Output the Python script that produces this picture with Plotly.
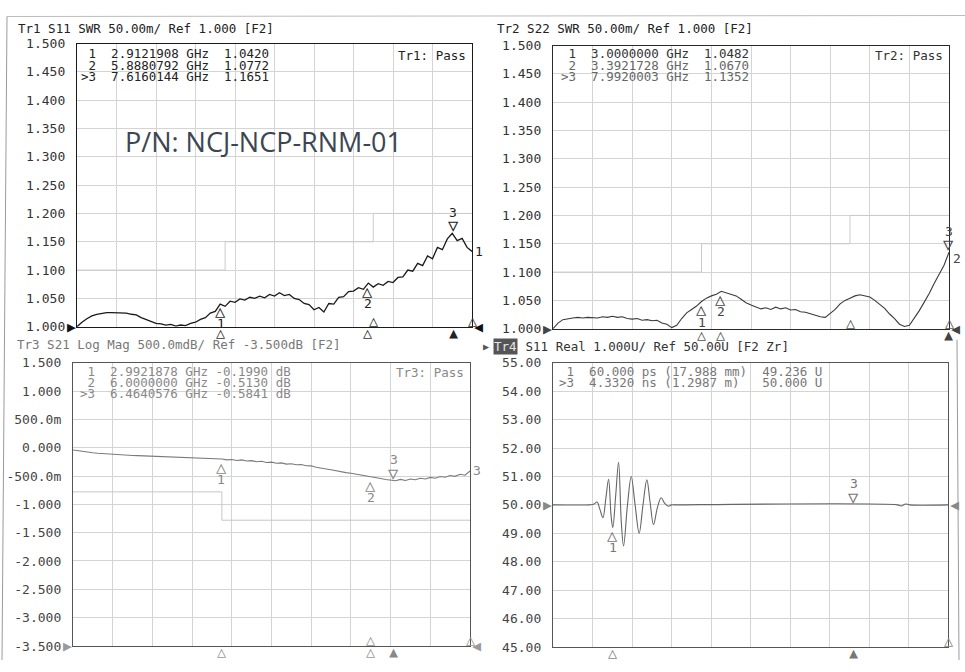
import plotly.graph_objects as go

W, H = 965, 672

# ---------------- data ----------------
freq_ghz = [round(i * 0.1, 1) for i in range(81)]  # sweep grid 0..8 GHz

s11_swr = [1.000, 1.008, 1.014, 1.019, 1.022, 1.024, 1.025, 1.025, 1.025, 1.025,
           1.024, 1.022, 1.021, 1.016, 1.013, 1.009, 1.006, 1.005, 1.003, 1.004,
           1.001, 1.003, 1.002, 1.006, 1.008, 1.013, 1.016, 1.024, 1.027, 1.040,
           1.036, 1.045, 1.043, 1.049, 1.047, 1.052, 1.050, 1.054, 1.051, 1.057,
           1.054, 1.060, 1.055, 1.057, 1.050, 1.048, 1.041, 1.039, 1.030, 1.034,
           1.026, 1.041, 1.040, 1.052, 1.053, 1.062, 1.063, 1.069, 1.066, 1.077,
           1.070, 1.076, 1.073, 1.080, 1.078, 1.087, 1.088, 1.100, 1.098, 1.112,
           1.108, 1.125, 1.120, 1.140, 1.136, 1.155, 1.165, 1.152, 1.156, 1.140,
           1.133]

s22_swr = [1.000, 1.010, 1.016, 1.018, 1.019, 1.020, 1.019, 1.020, 1.020, 1.019,
           1.021, 1.020, 1.022, 1.020, 1.021, 1.018, 1.017, 1.018, 1.015, 1.016,
           1.014, 1.015, 1.010, 1.008, 1.002, 1.006, 1.018, 1.028, 1.034, 1.040,
           1.048, 1.054, 1.058, 1.061, 1.066, 1.063, 1.061, 1.058, 1.052, 1.046,
           1.042, 1.038, 1.035, 1.037, 1.034, 1.038, 1.035, 1.037, 1.033, 1.034,
           1.030, 1.029, 1.026, 1.024, 1.021, 1.020, 1.027, 1.034, 1.044, 1.050,
           1.054, 1.058, 1.060, 1.058, 1.056, 1.050, 1.043, 1.036, 1.026, 1.018,
           1.008, 1.004, 1.006, 1.018, 1.032, 1.047, 1.062, 1.080, 1.097, 1.112,
           1.135]

s21_db = [-0.040, -0.055, -0.068, -0.080, -0.090, -0.098, -0.105, -0.112, -0.118, -0.124,
          -0.128, -0.133, -0.137, -0.140, -0.144, -0.148, -0.151, -0.155, -0.158, -0.162,
          -0.166, -0.170, -0.175, -0.180, -0.176, -0.188, -0.180, -0.195, -0.188, -0.203,
          -0.199, -0.215, -0.208, -0.225, -0.215, -0.235, -0.228, -0.248, -0.240, -0.262,
          -0.255, -0.275, -0.268, -0.290, -0.283, -0.302, -0.298, -0.318, -0.320, -0.345,
          -0.355, -0.375, -0.390, -0.410, -0.425, -0.440, -0.450, -0.468, -0.480, -0.500,
          -0.513, -0.530, -0.545, -0.560, -0.575, -0.584, -0.560, -0.578, -0.552, -0.565,
          -0.540, -0.552, -0.525, -0.538, -0.508, -0.522, -0.490, -0.505, -0.470, -0.485,
          -0.410]

tdr_time_ns = [-1.0, -0.35, -0.28, -0.22, -0.17, -0.115, -0.065, -0.015, 0.03, 0.06,
               0.11, 0.162, 0.21, 0.25, 0.32, 0.386, 0.455, 0.527, 0.595, 0.663,
               0.72, 0.781, 0.85, 0.917, 0.98, 1.046, 1.10, 1.15, 5.10, 5.17,
               5.25, 5.32, 6.0]
tdr_real_u = [50.0, 50.0, 50.02, 50.1, 49.85, 49.55, 50.2, 50.9, 49.6, 49.2,
              50.3, 51.5, 49.4, 48.55, 50.0, 51.0, 50.0, 49.0, 50.0, 50.88,
              50.1, 49.3, 49.9, 50.25, 50.05, 49.95, 50.0, 50.0, 50.0, 49.96,
              50.03, 50.0, 50.0]

# markers
tr1_mk_f = [2.9121908, 5.8880792, 7.6160144]
tr1_mk_v = [1.0420, 1.0772, 1.1651]
tr2_mk_f = [3.0000000, 3.3921728, 7.9920003]
tr2_mk_v = [1.0482, 1.0670, 1.1352]
tr3_mk_f = [2.9921878, 6.0000000, 6.4640576]
tr3_mk_v = [-0.1990, -0.5130, -0.5841]
tr4_mk_t = [0.060, 4.3320]
tr4_mk_v = [49.236, 50.000]

# limit lines
swr_lim_f = [0, 3, 3, 6, 6, 8]
swr_lim_v = [1.10, 1.10, 1.15, 1.15, 1.20, 1.20]
s21_lim_f = [0, 3, 3, 8]
s21_lim_v = [-0.78, -0.78, -1.28, -1.28]

# tick labels
swr_ticks = [1.000, 1.050, 1.100, 1.150, 1.200, 1.250, 1.300, 1.350, 1.400, 1.450, 1.500]
swr_ticktext = ["1.000", "1.050", "1.100", "1.150", "1.200", "1.250", "1.300",
                "1.350", "1.400", "1.450", "1.500"]
s21_ticks = [-3.5, -3.0, -2.5, -2.0, -1.5, -1.0, -0.5, 0.0, 0.5, 1.0, 1.5]
s21_ticktext = ["-3.500", "-3.000", "-2.500", "-2.000", "-1.500", "-1.000",
                "-500.0m", "0.000", "500.0m", "1.000", "1.500"]
tdr_ticks = [45, 46, 47, 48, 49, 50, 51, 52, 53, 54, 55]
tdr_ticktext = ["45.00", "46.00", "47.00", "48.00", "49.00", "50.00",
                "51.00", "52.00", "53.00", "54.00", "55.00"]

headers = ["Tr1 S11 SWR 50.00m/ Ref 1.000 [F2]",
           "Tr2 S22 SWR 50.00m/ Ref 1.000 [F2]",
           "Tr3 S21 Log Mag 500.0mdB/ Ref -3.500dB [F2]",
           " S11 Real 1.000U/ Ref 50.00U [F2 Zr]"]
tr1_table = [" 1  2.9121908 GHz  1.0420", " 2  5.8880792 GHz  1.0772", ">3  7.6160144 GHz  1.1651"]
tr2_table = [" 1  3.0000000 GHz  1.0482", " 2  3.3921728 GHz  1.0670", ">3  7.9920003 GHz  1.1352"]
tr3_table = [" 1  2.9921878 GHz -0.1990 dB", " 2  6.0000000 GHz -0.5130 dB", ">3  6.4640576 GHz -0.5841 dB"]
tr4_table = [" 1  60.000 ps (17.988 mm)  49.236 U", ">3  4.3320 ns (1.2987 m)   50.000 U"]

# ---------------- layout helpers ----------------
MONO = "DejaVu Sans Mono"
FS = 12.5
GRID = "#d4d4d4"


def px(x):
    return x / W


def Y(y):
    # compensate the vertical placement seen in the rendered page
    return (y - 7.5) / 0.977


def py(y):
    return 1 - Y(y) / H


panels = {
    # name: (x0, x1, y_top, y_bottom) in reference pixels
    1: (77, 472, 44, 327),
    2: (553, 949, 46, 329),
    3: (73, 470, 363, 646),
    4: (553, 948, 363, 647),
}

fig = go.Figure()
annotations = []


def axis_pair(n, xr, xdt, yr, tickvals, ticktext, frame, tickcolor):
    x0, x1, yt, yb = panels[n]
    sfx = "" if n == 1 else str(n)
    xa = dict(domain=[px(x0), px(x1)], range=xr, anchor="y" + sfx, showticklabels=False,
              tick0=xr[0], dtick=xdt, showgrid=True, gridcolor=GRID, gridwidth=1, zeroline=False,
              showline=True, linecolor=frame, linewidth=1.3, mirror=True, ticks="", fixedrange=True)
    ya = dict(domain=[py(yb), py(yt)], range=yr, anchor="x" + sfx, tickvals=tickvals, ticktext=ticktext,
              showgrid=True, gridcolor=GRID, gridwidth=1, zeroline=False, showline=True, linecolor=frame,
              linewidth=1.3, mirror=True, ticks="", ticklabelstandoff=8,
              tickfont=dict(family=MONO, size=13, color=tickcolor), fixedrange=True)
    fig.layout["xaxis" + sfx] = xa
    fig.layout["yaxis" + sfx] = ya


axis_pair(1, [0, 8], 0.8, [1.0, 1.5], swr_ticks, swr_ticktext, "#1a1a1a", "#333")
axis_pair(2, [0, 8], 0.8, [1.0, 1.5], swr_ticks, swr_ticktext, "#2a2a2a", "#333")
axis_pair(3, [0, 8], 0.8, [-3.5, 1.5], s21_ticks, s21_ticktext, "#555", "#444")
axis_pair(4, [-1, 6], 0.7, [45, 55], tdr_ticks, tdr_ticktext, "#555", "#444")


def ref(n):
    return ("x", "y") if n == 1 else ("x" + str(n), "y" + str(n))


# limit lines
for n in (1, 2):
    xr, yr = ref(n)
    fig.add_trace(go.Scatter(x=swr_lim_f, y=swr_lim_v, xaxis=xr, yaxis=yr, mode="lines",
                             line=dict(color="#cacaca", width=1), hoverinfo="skip"))
xr, yr = ref(3)
fig.add_trace(go.Scatter(x=s21_lim_f, y=s21_lim_v, xaxis=xr, yaxis=yr, mode="lines",
                         line=dict(color="#c6c6c6", width=1), hoverinfo="skip"))

# traces
xr, yr = ref(1)
fig.add_trace(go.Scatter(x=freq_ghz, y=s11_swr, xaxis=xr, yaxis=yr, mode="lines",
                         line=dict(color="#1a1a1a", width=1.3)))
xr, yr = ref(2)
fig.add_trace(go.Scatter(x=freq_ghz, y=s22_swr, xaxis=xr, yaxis=yr, mode="lines",
                         line=dict(color="#3a3a3a", width=1.1)))
xr, yr = ref(3)
fig.add_trace(go.Scatter(x=freq_ghz, y=s21_db, xaxis=xr, yaxis=yr, mode="lines",
                         line=dict(color="#7a7a7a", width=1.1)))
xr, yr = ref(4)
fig.add_trace(go.Scatter(x=tdr_time_ns, y=tdr_real_u, xaxis=xr, yaxis=yr, mode="lines",
                         line=dict(color="#666", width=1.1, shape="spline", smoothing=1.0)))


def ann(n, x, y, text, color, size=13, xshift=0, yshift=0, xanchor="center", yanchor="middle", family=MONO):
    xr, yr = ref(n)
    annotations.append(dict(x=x, y=y, xref=xr, yref=yr, text=text, showarrow=False,
                            font=dict(family=family, size=size, color=color),
                            xshift=xshift, yshift=yshift, xanchor=xanchor, yanchor=yanchor))


def pann(x, y, text, color, size=FS, xanchor="left", yanchor="middle", family=MONO, bgcolor=None):
    d = dict(x=px(x), y=py(y), xref="paper", yref="paper", text=text, showarrow=False,
             font=dict(family=family, size=size, color=color), xanchor=xanchor, yanchor=yanchor)
    if bgcolor:
        d["bgcolor"] = bgcolor
        d["borderpad"] = 0
    annotations.append(d)


# headers
pann(16, 29, headers[0], "#222")
pann(495, 29, headers[1], "#222")
pann(15, 345, headers[2], "#777")
pann(481, 347, "▶", "#555", size=10)
pann(493, 347, "Tr4", "#e6e6e6", bgcolor="#555555")
pann(516, 347, headers[3], "#333")

# marker tables
for i, t in enumerate(tr1_table):
    pann(79, 54 + i * 11.5, t, "#222")
for i, t in enumerate(tr2_table):
    pann(559, 54 + i * 11.5, t, "#333" if i == 0 else "#666")
for i, t in enumerate(tr3_table):
    pann(78, 372 + i * 11, t, "#888")
for i, t in enumerate(tr4_table):
    pann(557, 372 + i * 11, t, "#777")

# pass labels
pann(468, 56, "Tr1: Pass", "#222", xanchor="right")
pann(945, 56, "Tr2: Pass", "#333", xanchor="right")
pann(466, 373, "Tr3: Pass", "#888", xanchor="right")

# part number
pann(123, 142, "P/N: NCJ-NCP-RNM-01", "#3c4652", size=27, family="Open Sans")

# reference arrows
for n, yv, col in ((1, 1.0, "#111"), (2, 1.0, "#444"), (3, -3.5, "#9a9a9a")):
    ann(n, 0, yv, "▶", col, size=15, xshift=-6)
    ann(n, 8, yv, "◀", col, size=15, xshift=6)
ann(4, -1, 50.0, "▶", "#888", size=15, xshift=-6)
ann(4, 6, 50.0, "◀", "#888", size=15, xshift=6)


# on-trace markers
def up_marker(n, x, y, label, col):
    ann(n, x, y, "△", col, size=17, yshift=-8)
    ann(n, x, y, label, col, size=13, yshift=-21)


def down_marker(n, x, y, label, col):
    ann(n, x, y, "▽", col, size=17, yshift=8)
    ann(n, x, y, label, col, size=13, yshift=21)


up_marker(1, tr1_mk_f[0], tr1_mk_v[0], "1", "#222")
up_marker(1, tr1_mk_f[1], tr1_mk_v[1], "2", "#222")
down_marker(1, tr1_mk_f[2], tr1_mk_v[2], "3", "#222")
ann(1, freq_ghz[-1], s11_swr[-1], "1", "#222", size=13, xshift=7)

up_marker(2, tr2_mk_f[0], tr2_mk_v[0], "1", "#444")
up_marker(2, tr2_mk_f[1], tr2_mk_v[1], "2", "#444")
down_marker(2, tr2_mk_f[2], tr2_mk_v[2], "3", "#444")
ann(2, freq_ghz[-1], s22_swr[-1], "2", "#444", size=13, xshift=8, yshift=-6)

up_marker(3, tr3_mk_f[0], tr3_mk_v[0], "1", "#888")
up_marker(3, tr3_mk_f[1], tr3_mk_v[1], "2", "#888")
down_marker(3, tr3_mk_f[2], tr3_mk_v[2], "3", "#888")
ann(3, freq_ghz[-1], s21_db[-1], "3", "#888", size=13, xshift=7)

up_marker(4, tr4_mk_t[0], tr4_mk_v[0], "1", "#777")
down_marker(4, tr4_mk_t[1], tr4_mk_v[1], "3", "#777")


# axis-bottom marker indicators
def bottom(n, x, y0, filled, col, above=False):
    if above:
        ann(n, x, y0, "△", col, size=15, yshift=6)
    else:
        ann(n, x, y0, "▲" if filled else "△", col, size=15, yshift=-6)


bottom(1, tr1_mk_f[0], 1.0, False, "#333")
bottom(1, tr1_mk_f[1], 1.0, False, "#333")
bottom(1, 6.0, 1.0, False, "#333", above=True)
bottom(1, tr1_mk_f[2], 1.0, True, "#222")
bottom(1, 8.0, 1.0, False, "#333", above=True)

bottom(2, tr2_mk_f[0], 1.0, False, "#555")
bottom(2, tr2_mk_f[1], 1.0, False, "#555")
bottom(2, 6.0, 1.0, False, "#555", above=True)
bottom(2, tr2_mk_f[2], 1.0, True, "#444")
bottom(2, 8.0, 1.0, False, "#555", above=True)

bottom(3, tr3_mk_f[0], -3.5, False, "#999")
bottom(3, tr3_mk_f[1], -3.5, False, "#999")
bottom(3, 6.0, -3.5, False, "#999", above=True)
bottom(3, tr3_mk_f[2], -3.5, True, "#888")
bottom(3, 8.0, -3.5, False, "#999", above=True)

bottom(4, tr4_mk_t[0], 45, False, "#888")
bottom(4, tr4_mk_t[1], 45, True, "#777")
bottom(4, 6.0, 45, False, "#888", above=True)

# window frame lines (scan edges, slightly skewed)
shapes = [
    dict(type="line", xref="paper", yref="paper", x0=px(7), x1=px(965), y0=py(17), y1=py(16),
         line=dict(color="#bdbdbd", width=1)),
    dict(type="line", xref="paper", yref="paper", x0=px(7), x1=px(2), y0=py(17), y1=py(660),
         line=dict(color="#9a9a9a", width=1)),
    dict(type="line", xref="paper", yref="paper", x0=px(957), x1=px(959), y0=py(340), y1=py(660),
         line=dict(color="#9a9a9a", width=1)),
]

fig.update_layout(width=W, height=H, margin=dict(l=0, r=0, t=0, b=0),
                  paper_bgcolor="#ffffff", plot_bgcolor="#ffffff", showlegend=False,
                  annotations=annotations, shapes=shapes)

fig.write_html("out.html")
